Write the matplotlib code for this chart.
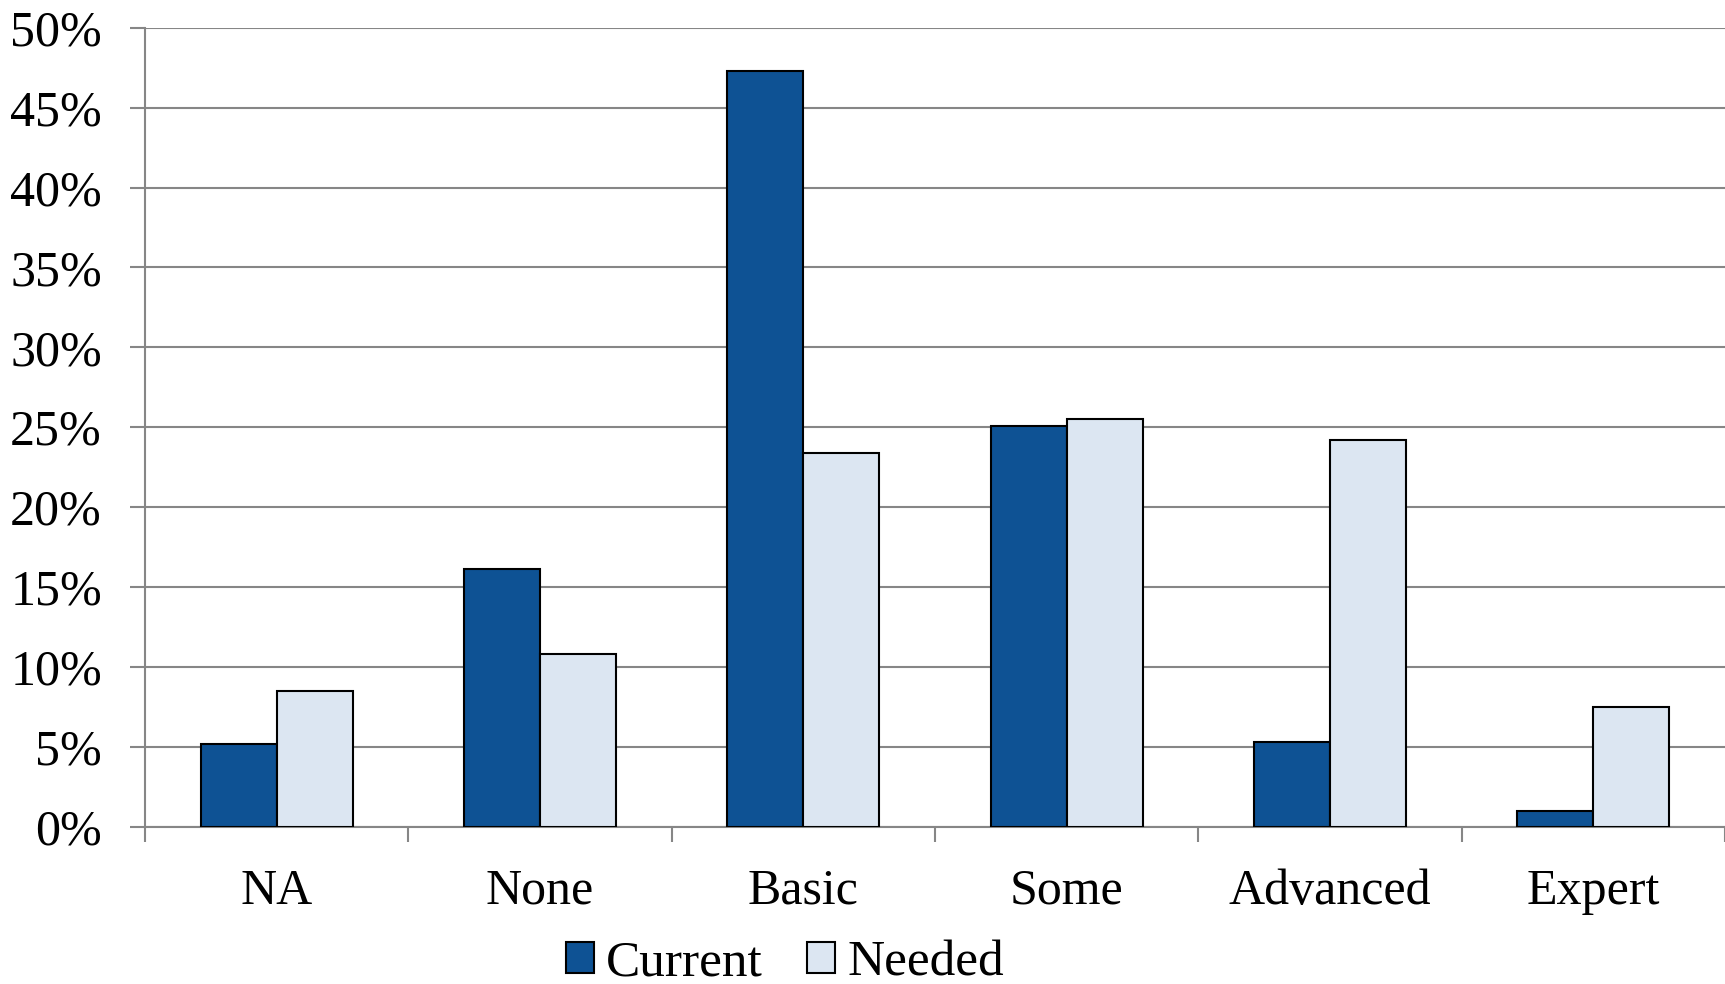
import numpy as np
import matplotlib
matplotlib.use('Agg')
import matplotlib.pyplot as plt
from matplotlib.patches import Patch

# survey levels
categories = ['NA', 'None', 'Basic', 'Some', 'Advanced', 'Expert']
current = [5.2, 16.1, 47.3, 25.1, 5.3, 1.0]   # %
needed = [8.5, 10.8, 23.4, 25.5, 24.2, 7.5]    # %
yticks = [0, 5, 10, 15, 20, 25, 30, 35, 40, 45, 50]

dark = '#0E5294'
light = '#DCE6F2'
grey = '#868686'

plt.rcParams['font.family'] = ['Liberation Serif', 'DejaVu Serif']

fig = plt.figure(figsize=(17.25, 9.84), dpi=100)
ax = fig.add_axes([145/1725., 1-826.7/984., 1-145/1725., (826.7-27.7)/984.])

x = np.arange(len(categories))
w = 0.288
ax.bar(x - w/2, current, w, color=dark, edgecolor='black', linewidth=1.5, zorder=3)
ax.bar(x + w/2, needed, w, color=light, edgecolor='black', linewidth=1.5, zorder=3)

ax.set_xlim(-0.5, len(categories) - 0.5)
ax.set_ylim(0, 50)
ax.set_yticks(yticks)
ax.set_yticklabels(['%d%%' % t for t in yticks])
ax.yaxis.grid(True, color=grey, linewidth=1.5, zorder=0)
ax.set_axisbelow(True)

ax.set_xticks(x)
ax.set_xticklabels(categories)
ax.set_xticks(np.arange(-0.5, len(categories), 1.0), minor=True)
ax.tick_params(axis='x', which='major', length=0, pad=30, labelsize=36)
ax.tick_params(axis='x', which='minor', length=11, width=1.5, color=grey, direction='out')
ax.tick_params(axis='y', length=11, width=1.5, color=grey, pad=20, labelsize=36)

for s in ['top', 'right']:
    ax.spines[s].set_visible(False)
ax.spines['left'].set_color(grey)
ax.spines['left'].set_linewidth(1.5)
ax.spines['bottom'].set_color(grey)
ax.spines['bottom'].set_linewidth(1.5)

handles = [Patch(facecolor=dark, edgecolor='black', linewidth=1.5),
           Patch(facecolor=light, edgecolor='black', linewidth=1.5)]
fig.legend(handles, ['Current', 'Needed'], loc='center', bbox_to_anchor=(0.455, 0.021),
           ncol=2, frameon=False, fontsize=37, handlelength=0.54, handleheight=0.54,
           handletextpad=0.24, columnspacing=0.86, borderpad=0)

fig.savefig('out.png', dpi=100)
